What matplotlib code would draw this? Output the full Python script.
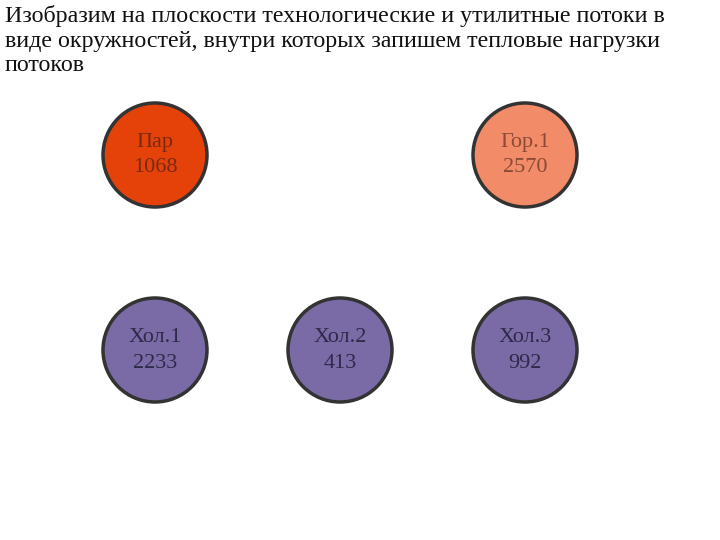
import matplotlib
matplotlib.use("Agg")
import matplotlib.pyplot as plt
from matplotlib.patches import Circle

title = ("Изобразим на плоскости технологические и утилитные потоки в\n"
         "виде окружностей, внутри которых запишем тепловые нагрузки\n"
         "потоков")

names = ["Пар", "Гор.1", "Хол.1", "Хол.2", "Хол.3"]
loads = [1068, 2570, 2233, 413, 992]
cx = [155, 525, 155, 340, 525]
cy = [155, 155, 350, 350, 350]
fills = ["#E5420A", "#F28B68", "#7A6AA6", "#7A6AA6", "#7A6AA6"]
text_colors = ["#7A2A10", "#8A4A35", "#2E2A4A", "#2E2A4A", "#2E2A4A"]

fig = plt.figure(figsize=(7.2, 5.4), dpi=100)
ax = fig.add_axes([0, 0, 1, 1])
ax.set_xlim(0, 720)
ax.set_ylim(540, 0)
ax.set_aspect("equal")
ax.axis("off")

ax.text(5, 5, title, ha="left", va="top", fontsize=17.3,
        family="Liberation Serif", color="#111111", linespacing=1.22)

for n, v, x, y, f, tc in zip(names, loads, cx, cy, fills, text_colors):
    ax.add_patch(Circle((x, y), 52, facecolor=f, edgecolor="#333333", lw=2.5))
    ax.text(x, y - 12, n, ha="center", va="center", fontsize=16,
            family="Liberation Serif", color=tc)
    ax.text(x, y + 13, str(v), ha="center", va="center", fontsize=16,
            family="Liberation Serif", color=tc)

fig.savefig("out.png", dpi=100)
